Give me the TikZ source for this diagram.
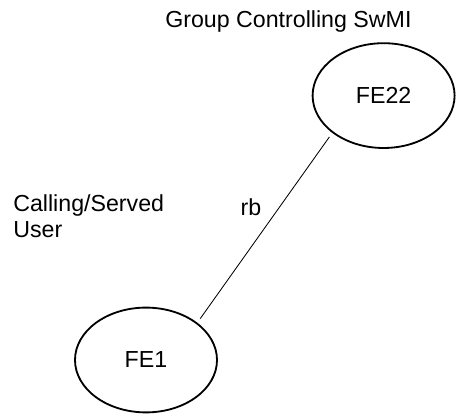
\documentclass[tikz,border=0pt]{standalone}
\usepackage{fontspec}
\setmainfont{Liberation Sans}
\usetikzlibrary{shapes.geometric}

\begin{document}
\begin{tikzpicture}[auto, font=\fontsize{16.5}{18.5}\selectfont,
    fe/.style={draw, ellipse, line width=1.3pt, minimum width=3.55cm, minimum height=2.62cm, inner sep=0pt},
    txt/.style={inner sep=0pt, anchor=base west}]

    \useasboundingbox (0,0) rectangle (11.4,-10.375);

    % Nodes
    \node[fe] (FE22) at (9.59,-2.39) {FE22};
    \node[fe] (FE1) at (3.65,-9.0) {FE1};
    \node[txt] (SwMI) at (4.125,-0.7) {Group Controlling SwMI};
    \node[txt, align=left] (User) at (0.325,-5.95) {Calling/Served\\User};

    % Link
    \draw[line width=0.6pt, shorten <=3.5pt, shorten >=3.5pt] (FE1.36) to
        node[pos=0.61, left=4.5mm, inner sep=0pt] {rb} (FE22.216);
\end{tikzpicture}
\end{document}
